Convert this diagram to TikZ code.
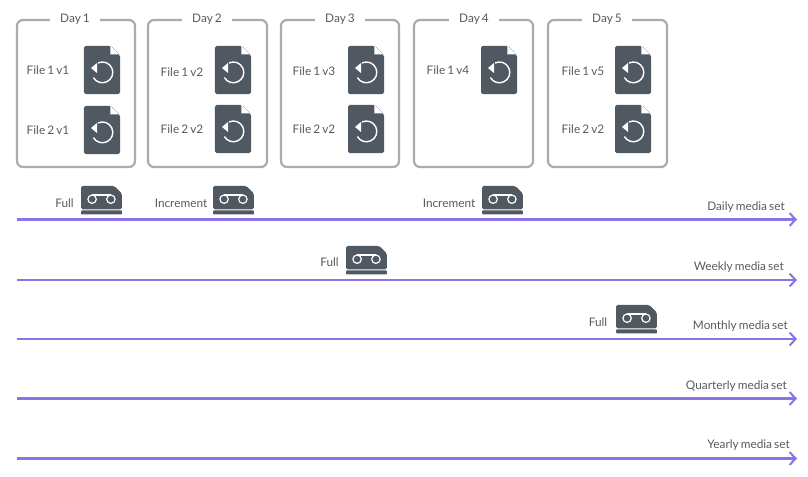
\documentclass[tikz,border=0pt]{standalone}
\usepackage{fontspec}
\setmainfont[WordSpace=0.7]{Lato}
\usetikzlibrary{arrows.meta}
\definecolor{icondark}{HTML}{505862}
\definecolor{framegrey}{HTML}{ABABAB}
\definecolor{setline}{HTML}{8B72E8}
\definecolor{labelgrey}{HTML}{565B62}
\tikzset{
	dayframe/.style={draw=framegrey, line width=0.55mm, rounded corners=1.5mm},
	daylabel/.style={fill=white, text=labelgrey, font=\fontsize{8.4}{10}\selectfont, inner xsep=2.6mm, inner ysep=0.5mm},
	filelabel/.style={text=labelgrey, font=\fontsize{8.4}{10}\selectfont, inner sep=0pt},
	setlabel/.style={text=labelgrey, font=\fontsize{8.4}{10}\selectfont, inner sep=0pt, anchor=east},
	setarrow/.style={draw=setline, line width=0.55mm, -{Straight Barb[length=1.5mm,width=3.2mm,line width=0.5mm]}},
	pics/fileicon/.style={code={
		\begin{scope}[x=1cm, y=1cm]
		\fill[icondark, rounded corners=0.4mm] (-0.45, 0.6) -- (0.22, 0.6) -- (0.45, 0.37) -- (0.45, -0.6) -- (-0.45, -0.6) -- cycle;
		\fill[white] (0.21, 0.6) -- (0.21, 0.39) -- (0.43, 0.39) -- cycle;
		\draw[white, line width=0.35mm] (-0.10, 0.176) arc (115:-150:0.26);
		\fill[white] (-0.275, 0.05) -- (-0.125, 0.175) -- (-0.125, -0.075) -- cycle;
		\end{scope}
	}},
	pics/tapeicon/.style={code={
		\begin{scope}[x=1cm, y=1cm]
		\fill[icondark, rounded corners=0.4mm] (-0.51, 0.35) -- (0.32, 0.35) -- (0.51, 0.16) -- (0.51, -0.235) -- (-0.51, -0.235) -- cycle;
		\fill[icondark, rounded corners=0.2mm] (-0.51, -0.36) rectangle (0.51, -0.26);
		\draw[white, line width=0.3mm] (-0.235, 0.02) circle (0.105);
		\draw[white, line width=0.3mm] (0.235, 0.02) circle (0.105);
		\draw[white, line width=0.3mm] (-0.235, 0.125) -- (0.235, 0.125);
		\end{scope}
	}}
}

\begin{document}
\begin{tikzpicture}[x=0.025cm, y=-0.025cm]
	\useasboundingbox (0, 0) rectangle (808, 477);
	
	% day boxes
	\draw[dayframe] (17, 20) rectangle (135, 167);
	\draw[dayframe] (148, 20) rectangle (267, 167);
	\draw[dayframe] (281, 20) rectangle (399, 167);
	\draw[dayframe] (414, 20) rectangle (533, 167);
	\draw[dayframe] (548, 20) rectangle (667, 167);
	
	\node[daylabel] (day1) at (75, 19) {Day 1};
	\node[daylabel] (day2) at (207, 19) {Day 2};
	\node[daylabel] (day3) at (340, 19) {Day 3};
	\node[daylabel] (day4) at (474, 19) {Day 4};
	\node[daylabel] (day5) at (607, 19) {Day 5};
	
	% files
	\foreach \x/\y/\txt/\tx/\ty in {
		102/70/File 1 v1/48/70,
		102/130/File 2 v1/48/130,
		233/70/File 1 v2/182/72,
		233/129/File 2 v2/182/129.5,
		366/70/File 1 v3/314/71,
		366/129/File 2 v2/314/129,
		499/70/File 1 v4/448/70,
		633/70/File 1 v5/583/71,
		633/129/File 2 v2/583/129}
	{
		\pic at (\x, \y) {fileicon};
		\node[filelabel] at (\tx, \ty) {\txt};
	}
	
	% media sets
	\foreach \y/\lx/\ly/\txt in {
		219.5/785/207/Daily media set,
		280/784/267/Weekly media set,
		339/788/326/Monthly media set,
		398.5/787/386/Quarterly media set,
		458.5/790/445/Yearly media set}
	{
		\coordinate (start) at (17, \y);
		\coordinate (end) at (797, \y);
		\draw[setarrow] (start) -- (end);
		\node[setlabel] at (\lx, \ly) {\txt};
	}
	
	% tapes
	\foreach \x/\y/\txt/\tx/\ty in {
		101.5/200/Full/64.5/203,
		233.5/200/Increment/181/203,
		502.5/200/Increment/449/203,
		366.5/260/Full/329.5/262,
		636.5/319/Full/598/322}
	{
		\pic at (\x, \y) {tapeicon};
		\node[filelabel] at (\tx, \ty) {\txt};
	}
\end{tikzpicture}
\end{document}
